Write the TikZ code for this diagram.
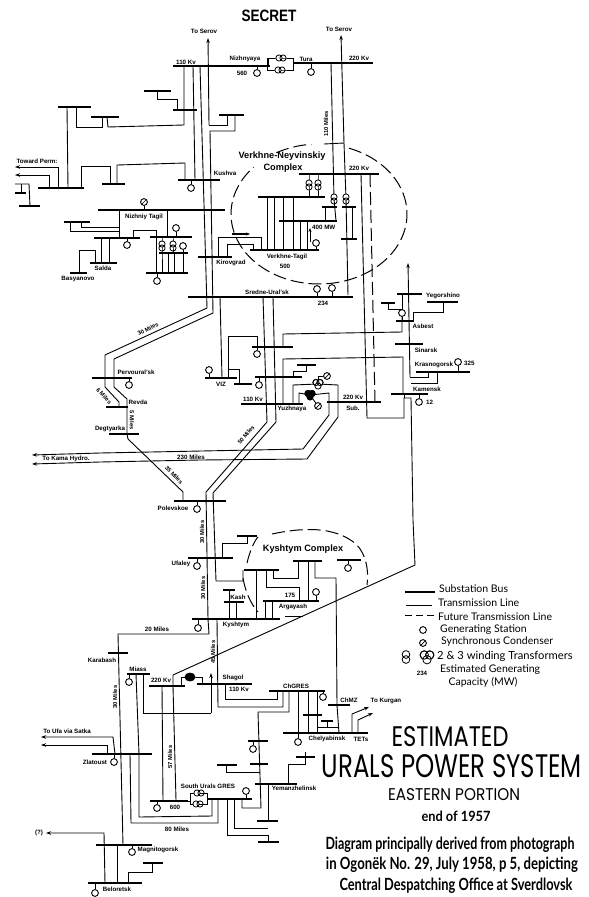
\documentclass[tikz,border=0pt]{standalone}
\usepackage{fontspec}
\usepackage{graphicx}
\setmainfont{Liberation Sans}
\newfontfamily\ttlfont{Poppins}
\newfontfamily\lgdfont{Lato}
\usetikzlibrary{arrows.meta}
\pgfdeclarelayer{bg}
\pgfsetlayers{bg,main}
\tikzset{
  lnk/.style={line width=0.9pt,line join=miter},
  arr/.style={lnk,-{Stealth[length=5pt,width=3.5pt]}},
  fut/.style={line width=1pt,dash pattern=on 13pt off 5pt},
  busbar/.style={rectangle,fill=black,inner sep=0pt,minimum height=2pt},
  gensym/.style={circle,draw,fill=white,line width=0.9pt,minimum size=6.8pt,inner sep=0pt},
  synsym/.style={gensym,path picture={\draw[line width=0.7pt] (path picture bounding box.south west) -- (path picture bounding box.north east);}},
  xfm/.style={draw,fill=white,line width=0.8pt},
  xfb/.style={draw,fill=black,line width=0.8pt},
  lbl/.style={inner sep=0pt,font=\fontsize{6.2}{6.5}\selectfont\bfseries},
  rlb/.style={inner sep=0pt,font=\fontsize{5.8}{6}\selectfont\bfseries},
  cpx/.style={inner sep=0pt,font=\fontsize{9.2}{10}\selectfont\bfseries},
  lgd/.style={inner sep=0pt,anchor=west,font=\lgdfont\fontsize{10.5}{11}\selectfont},
  ttl/.style={inner sep=0pt,font=\ttlfont},
  ttb/.style={inner sep=0pt,font=\lgdfont\bfseries},
}
\newcommand{\bus}[4]{\node[busbar,minimum width={(#3-#2)*1pt}] (#1) at ({(#2+#3)/2},#4) {};}
\newcommand{\gen}[4]{\node[gensym] (#1) at (#2,#3) {};\begin{pgfonlayer}{bg}\draw[lnk] (#1) -- (#1 |- #4);\end{pgfonlayer}}
\newcommand{\syn}[4]{\node[synsym] (#1) at (#2,#3) {};\begin{pgfonlayer}{bg}\draw[lnk] (#1) -- (#1 |- #4);\end{pgfonlayer}}
\newcommand{\xfv}[3]{\coordinate (#1) at (#2,#3);\draw[xfm] (#2,{#3-2}) circle (3.1pt);\draw[xfm,fill=none] (#2,{#3+2}) circle (3.1pt);}
\newcommand{\xfh}[3]{\coordinate (#1) at (#2,#3);\draw[xfm] ({#2-2},#3) circle (3.1pt);\draw[xfm,fill=none] ({#2+2},#3) circle (3.1pt);}
\newcommand{\xft}[4]{\coordinate (#1) at (#2,#3);\draw[#4] ({#2-2},{#3-1.5}) circle (3.1pt);\draw[#4] ({#2+2},{#3-1.5}) circle (3.1pt);\draw[#4] (#2,{#3+2}) circle (3.1pt);\draw[xfm,fill=none] ({#2-2},{#3-1.5}) circle (3.1pt);\draw[xfm,fill=none] ({#2+2},{#3-1.5}) circle (3.1pt);}
\begin{document}
\begin{tikzpicture}[x=1pt,y=-1pt]
\useasboundingbox (0,0) rectangle (589,897);
% ---- buses
\bus{bA}{173}{270}{66}\bus{bB}{293}{373}{63}
\bus{bC}{144}{171}{91}\bus{bD}{173}{197}{110}\bus{bE}{58}{91}{107}\bus{bF}{91}{119}{117}\bus{bG}{219}{244}{115}
\bus{bKu}{178}{220}{180}\bus{bH}{38}{84}{188}\bus{bI}{102}{125}{184}\bus{bJ}{19}{40}{206}\bus{bK}{15}{26}{193}
\bus{bNT}{98}{225}{210}\bus{bL}{64}{90}{222}\bus{bM}{94}{140}{238}\bus{bN}{150}{192}{237}\bus{bO}{159}{188}{253}\bus{bP}{146}{188}{273}
\bus{bSa}{90}{117}{263}\bus{bBa}{70}{87}{273}\bus{bKi}{198}{232}{257}
\bus{bVa}{299}{379}{174}\bus{bVb}{258}{325}{197}\bus{bVc}{322}{337}{207}\bus{bVd}{342}{356}{207}\bus{bVe}{341}{357}{239}\bus{bVf}{279}{337}{221}\bus{bVg}{250}{319}{250}
\bus{bSU}{188}{353}{297}
\bus{bVZ}{205}{237}{378}\bus{bQ}{252}{293}{347}\bus{bR}{234}{252}{384}\bus{bS}{255}{302}{377}\bus{bT}{297}{316}{365}\bus{bY}{241}{303}{404}\bus{bSub}{327}{381}{402}
\bus{bKa}{391}{428}{394}\bus{bKr}{416}{470}{372}\bus{bSi}{395}{423}{344}\bus{bAs}{396}{414}{321}\bus{bYe}{397}{422}{294}\bus{bU}{427}{458}{302}\bus{bW}{381}{395}{303}
\bus{bPe}{92}{132}{378}\bus{bRe}{106}{128}{407}\bus{bDe}{109}{139}{434}\bus{bPo}{174}{226}{501}
\bus{bUf}{188}{233}{558}\bus{bX}{237}{257}{536}\bus{bKA}{244}{279}{570}\bus{bKB}{293}{322}{561}\bus{bKC}{337}{361}{560}\bus{bAr}{263}{319}{601}\bus{bKs}{192}{280}{619}\bus{bKp}{223}{235}{590}\bus{bKq}{224}{244}{602}
\bus{bKb}{108}{128}{653}\bus{bMi}{127}{150}{674}\bus{bTw}{149}{185}{686}\bus{bSh}{197}{252}{684}\bus{bCh}{269}{325}{691}\bus{bMZ}{328}{350}{705}\bus{bCy}{283}{368}{733}\bus{bZa}{303}{322}{715}\bus{bZb}{321}{333}{721}
\bus{bZl}{92}{152}{754}\bus{bSG}{150}{188}{801}\bus{bSR}{207}{252}{799}\bus{bYa}{248}{268}{741}\bus{bYb}{250}{268}{764}\bus{bYc}{217}{237}{765}\bus{bYm}{255}{297}{784}\bus{bYd}{296}{315}{757}\bus{bYe2}{257}{278}{821}\bus{bYf}{258}{279}{842}
\bus{bMg}{96}{152}{845}\bus{bBe}{88}{142}{883}\bus{bBf}{143}{163}{863}
% ---- generating stations
\gen{g560}{257}{73}{bA}\gen{gTu}{311}{72}{bB}\gen{gKu}{191}{188}{bKu}
\syn{sNT}{144}{202}{bNT}
\gen{gM}{127}{245}{bM}\gen{gN}{176}{228}{bN}\gen{gO}{183}{246}{bP}\gen{gP}{157}{281}{bP}
\gen{gV}{316}{243}{bVg}\gen{gSa}{317}{289}{bSU}\gen{gSb}{332}{288}{bSU}
\gen{gPe}{129}{385}{bPe}\gen{gVZ}{209}{370}{bVZ}\gen{gQ}{257}{354}{bQ}\gen{gR}{259}{385}{bS}
\gen{gAs}{402}{313}{bAs}\gen{gKa}{419}{402}{bKa}\gen{gKr}{458}{362}{bKr}
\gen{gPo}{197}{509}{bPo}\gen{gUf}{197}{566}{bUf}\gen{gKs}{198}{628}{bKs}\gen{gAr}{316}{592}{bAr}\gen{gKC}{348}{568}{bKC}
\gen{gMi}{129}{682}{bMi}\gen{gCh}{323}{697}{bCh}\gen{gCy}{298}{742}{bCy}\gen{gZl}{114}{762}{bZl}\gen{gSG}{157}{808}{bSG}\gen{gSR}{246}{791}{bSR}\gen{gYa}{253}{749}{bYa}
\gen{gMg}{132}{852}{bMg}\gen{gBe}{95}{893}{bBe}
\node[synsym] (sYa) at (327,376) {};\node[synsym] (sYb) at (318,406) {};
% ---- transformers
\xfh{tNa}{281}{58}\xfh{tNb}{280}{70}
\xfv{tVa}{309}{185}\xfv{tVb}{318}{185}\xfv{tVc}{334}{199}\xfv{tVd}{346}{199}
\xfv{tNc}{162}{246}\xfv{tNd}{173}{246}
\xfh{tSa}{199}{793}\xfh{tSb}{198}{804}
\xft{tYa}{318}{384}{xfm}\xft{tYb}{310}{395}{xfb}
\draw[xfb] (190,677) ellipse (5pt and 4pt);\coordinate (tSh) at (190,677);
% ---- transmission lines
\begin{pgfonlayer}{bg}
% North-west
\draw[arr] (209,125) -- (208,38);
\draw[lnk] (209,125) -- (227,125) -- (227,0|-bG);
\draw[lnk] (235,0|-bG) -- (235,131) -- (210,131) -- (213,313) -- (114,359) -- (114,387) -- (127,399) -- (127,0|-bDe) -- (128,439) -- (183,492) -- (183,0|-bPo);
\draw[lnk] (200,0|-bA) -- (207,308) -- (105,355) -- (105,387) -- (119,402) -- (119,0|-bRe);
\draw[lnk] (184,0|-bA) -- (184,125) -- (108,127) -- (107,0|-bF);
\draw[lnk] (193,0|-bA) -- (195,0|-bKu);
\draw[lnk] (157,0|-bC) -- (157,99) -- (177,99) -- (177,0|-bD);
\draw[lnk] (76,0|-bE) -- (76,127) -- (102,127) -- (102,0|-bF);
\draw[lnk] (67,0|-bE) -- (68,0|-bH);
\draw[arr] (58,0|-bH) -- (58,167) -- (15,167);
\draw[arr] (49,0|-bH) -- (49,175) -- (15,175);
\draw[lnk] (81,0|-bH) -- (81,166) -- (110,166) -- (110,0|-bI);
\draw[lnk] (117,0|-bI) -- (117,165) -- (185,163) -- (185,0|-bKu);
\draw[lnk] (15,184) -- (29,184) -- (30,0|-bJ);
\draw[lnk] (21,184) -- (21,0|-bK);
% Nizhniy Tagil
\draw[lnk] (119,0|-bNT) -- (119,0|-bM);
\draw[lnk] (70,0|-bL) -- (70,231) -- (119,231);
\draw[lnk] (81,0|-bL) -- (81,227) -- (119,227);
\draw[lnk] (133,0|-bM) -- (133,230) -- (156,230) -- (156,0|-bP);
\draw[lnk] (167,0|-bNT) -- (167,0|-bN);
\draw[lnk] (162,0|-bN) -- (tNc) -- (162,0|-bP);
\draw[lnk] (173,0|-bN) -- (tNd) -- (173,0|-bO);
\draw[lnk] (168,0|-bO) -- (168,0|-bP);
\draw[lnk] (174,0|-bO) -- (174,0|-bP);
\draw[lnk] (101,0|-bM) -- (101,0|-bSa);
\draw[lnk] (109,0|-bM) -- (109,0|-bSa);
\draw[lnk] (95,0|-bSa) -- (95,250) -- (79,250) -- (79,0|-bBa);
% Kirovgrad
\draw[lnk] (218,0|-bKi) -- (218,237) -- (261,237) -- (261,0|-bVg);
\draw[lnk] (227,0|-bKi) -- (227,244) -- (253,244) -- (253,0|-bVg);
% Top right
\draw[lnk] (268,66) -- (268,58) -- (tNa) -- (293,58) -- (293,70) -- (tNb) -- (267,70) -- (267,58);
\draw[arr] (344,143) -- (341,35);
\draw[lnk] (331,0|-bB) -- (tVc);
\draw[lnk] (324,144) -- (344,143) -- (tVd) -- (348,295);
\draw[lnk] (tVc) -- (336,0|-bVf);
\draw[lnk] (tVa |- bVa) -- (tVa) -- (tVa |- bVb);
\draw[lnk] (tVb |- bVa) -- (tVb) -- (tVb |- bVb);
\draw[lnk] (325,0|-bVc) -- (325,0|-bVf);
\draw[lnk] (352,0|-bVd) -- (352,0|-bVe);
\foreach \xx in {267,274,283,293} {\draw[lnk] (\xx,0|-bVb) -- (\xx,0|-bVg);}
\foreach \xx in {300,307} {\draw[lnk] (\xx,0|-bVf) -- (\xx,0|-bVg);}
\draw[arr,line width=0.8pt,-{Stealth[length=4pt,width=3pt]}] (310,242) -- (310,228);
\draw[lnk,line width=1.2pt,-{Stealth[length=4pt,width=3pt]}] (232,234) -- (250,234);
\draw[lnk] (361,0|-bVa) -- (367,418) -- (404,418) -- (404,398) -- (411,398) -- (413,520) -- (415,565) -- (173,675) -- (173,686) -- (176,800);
\draw[lnk] (404,398) -- (404,0|-bKa);
\draw[fut] (370,0|-bVa) -- (375,0|-bSub);
% Sredne-Ural'sk and Yuzhnaya
\draw[lnk] (220,0|-bSU) -- (222,0|-bVZ);
\draw[lnk] (228,0|-bVZ) -- (228,336) -- (257,336) -- (257,0|-bQ);
\draw[lnk] (283,0|-bQ) -- (283,334) -- (402,332) -- (gAs);
\draw[lnk] (229,369) -- (239,369) -- (239,0|-bR);
\draw[lnk] (306,0|-bT) -- (306,371) -- (293,371) -- (293,0|-bS);
\draw[lnk] (263,0|-bSU) -- (267,422) -- (206,492) -- (208,0|-bKs) -- (209,634) -- (118,634) -- (123,0|-bMg);
\draw[lnk] (273,0|-bSU) -- (276,422) -- (213,493) -- (216,581) -- (243,581) -- (243,0|-bKA);
\draw[lnk] (283,0|-bY) -- (283,359) -- (403,357) -- (403,0|-bKa);
\draw[lnk] (293,0|-bY) -- (293,385) -- (tYa);
\draw[lnk] (tYa) -- (338,385) -- (338,417) -- (307,459) -- (200,460) -- (100,462);
\draw[arr] (100,462) -- (32,464);
\draw[lnk] (299,0|-bY) -- (299,393) -- (tYb) -- (329,393) -- (329,415) -- (303,449) -- (100,453);
\draw[arr] (100,453) -- (32,455);
\draw[lnk] (tYa) -- (318,376) -- (sYa);
\draw[lnk] (tYb) -- (sYb);
% East
\draw[arr] (410,377) -- (408,263);
\draw[lnk] (410,377) -- (428,377) -- (428,0|-bKr);
\draw[lnk] (437,0|-bKr) -- (437,383) -- (411,383);
\draw[lnk] (388,0|-bW) -- (388,309) -- (402,309) -- (402,0|-bYe);
\draw[lnk] (402,0|-bYe) -- (gAs);
\draw[lnk] (413,0|-bAs) -- (413,312) -- (443,312) -- (443,0|-bU);
% Kyshtym complex
\draw[lnk] (247,0|-bX) -- (247,543) -- (222,543) -- (222,0|-bUf);
\draw[lnk] (256,0|-bKA) -- (256,0|-bKs);
\draw[lnk] (266,0|-bKA) -- (266,587) -- (299,587) -- (299,0|-bAr);
\draw[lnk] (273,0|-bKA) -- (273,578) -- (298,578) -- (298,0|-bKB);
\draw[lnk] (308,0|-bKB) -- (308,0|-bAr);
\draw[lnk] (315,0|-bKB) -- (315,578) -- (336,578) -- (337,0|-bMZ) -- (339,0|-bCy);
\draw[lnk] (265,0|-bAr) -- (265,0|-bKs);
\draw[lnk] (272,0|-bAr) -- (272,0|-bKs);
\draw[lnk] (229,0|-bKp) -- (229,0|-bKs);
\draw[lnk] (236,0|-bKq) -- (236,0|-bKs);
\draw[lnk] (217,0|-bKs) -- (218,707) -- (283,707) -- (283,0|-bCh);
% South
\draw[lnk] (225,0|-bSh) -- (225,699) -- (277,699) -- (277,0|-bCh);
\draw[lnk] (181,0|-bTw) -- (181,677) -- (tSh) -- (202,677) -- (202,0|-bSh);
\draw[arr] (211,713) -- (211,673);
\draw[lnk] (143,0|-bMi) -- (143,713) -- (211,713);
\draw[lnk] (162,0|-bTw) -- (163,0|-bSG);
\draw[lnk] (136,0|-bMi) -- (139,0|-bZl) -- (139,817) -- (212,816) -- (212,0|-bSR);
\draw[lnk] (130,0|-bZl) -- (131,823) -- (218,823) -- (218,0|-bSR);
\draw[arr] (115,0|-bZl) -- (113,737) -- (41,737);
\draw[arr] (107,0|-bZl) -- (107,745) -- (41,745);
\draw[lnk] (188,801) -- (190,801) -- (190,793) -- (tSa) -- (207,793) -- (207,804) -- (tSb) -- (190,804) -- (190,801);
\draw[lnk] (289,0|-bCh) -- (289,712) -- (258,712) -- (261,808) -- (242,808) -- (242,0|-bSR);
\draw[lnk] (226,0|-bYc) -- (226,772) -- (260,772);
\draw[lnk] (234,0|-bSR) -- (234,828) -- (268,828);
\draw[lnk] (268,0|-bYm) -- (268,0|-bYe2);
\draw[lnk] (227,0|-bSR) -- (227,835) -- (268,835) -- (268,0|-bYf);
\draw[lnk] (288,0|-bYm) -- (288,764) -- (305,764) -- (305,752);
\foreach \xx in {308,317} {\draw[lnk] (\xx,0|-bCh) -- (\xx,0|-bCy);}
\draw[lnk] (298,0|-bCh) -- (298,0|-bCy);
\draw[lnk] (317,727) -- (339,727);
\draw[lnk] (327,0|-bZb) -- (327,727);
\draw[arr] (352,0|-bCy) -- (352,714) -- (369,707);
\draw[arr] (358,0|-bCy) -- (358,720) -- (373,713);
\draw[arr] (105,0|-bBe) -- (104,833) -- (46,833);
\draw[lnk] (117,0|-bMg) -- (117,0|-bBe);
\draw[lnk] (128,0|-bBe) -- (128,872) -- (152,872) -- (152,0|-bBf);
% Dashed complexes
\draw[fut] plot[domain=-70:222,samples=120] ({319+88*cos(\x)},{214+70*sin(\x)});
\draw[fut] plot[domain=-119:-95,samples=20] ({319+88*cos(\x)},{214+70*sin(\x)});
\draw[fut] (247,563) .. controls (250,550) and (255,540) .. (258,537);
\draw[fut] (272,534) .. controls (300,528) and (335,525) .. (357,545) .. controls (366,555) and (369,570) .. (367,585);
\draw[fut] (243,578) .. controls (245,590) and (250,603) .. (258,612);
\draw[lnk,line width=1pt] (285,616) -- (303,616);
% Legend lines
\coordinate (lgA) at (405,592);\coordinate (lgB) at (435,592);
\draw[line width=2pt] (lgA) -- (lgB);
\coordinate (lgC) at (406,605);\coordinate (lgD) at (432,605);
\draw[lnk] (lgC) -- (lgD);
\coordinate (lgE) at (405,615);\coordinate (lgF) at (435,615);
\draw[line width=1pt,dash pattern=on 7pt off 4pt] (lgE) -- (lgF);
\end{pgfonlayer}
% Legend symbols
\node[gensym] (lgG) at (423,630) {};
\node[synsym] (lgS) at (423,643) {};
\begin{scope}[shift={(406,657)},scale=1.25]\xfv{lgT}{0}{0}\end{scope}
\begin{scope}[shift={(427,657)},scale=1.35]\xft{lgU}{0}{0}{xfm}\end{scope}
% ---- labels
\node[inner sep=0pt,font=\bfseries] (tSec) at (269,16) {\resizebox{55pt}{11.5pt}{SECRET}};
\node[lbl] (l01) at (204,31) {To Serov};
\node[lbl] (l02) at (339,29) {To Serov};
\node[lbl] (l03) at (186,62) {110 Kv};
\node[lbl] (l04) at (359,58) {220 Kv};
\node[lbl] (l05) at (245,59) {Nizhnyaya};
\node[lbl] (l06) at (242,73) {560};
\node[lbl] (l07) at (306,59) {Tura};
\node[rlb,rotate=90] (l08) at (326,124) {110 Miles};
\node[lbl] (l09) at (37,161) {Toward Perm:};
\node[lbl] (l10) at (225,173) {Kushva};
\node[lbl] (l11) at (144,217) {Nizhniy Tagil};
\node[lbl] (l12) at (103,268) {Salda};
\node[lbl] (l13) at (78,279) {Basyanovo};
\node[lbl] (l14) at (231,263) {Kirovgrad};
\node[cpx] (l15) at (282,156) {Verkhne-Neyvinskiy};
\node[cpx] (l16) at (283,168) {Complex};
\node[lbl] (l17) at (359,168) {220 Kv};
\node[lbl,anchor=west] (l18) at (312,227) {400 MW};
\node[lbl] (l19) at (287,257) {Verkhne-Tagil};
\node[lbl] (l20) at (285,266) {500};
\node[lbl] (l21) at (267,292) {Sredne-Ural'sk};
\node[lbl] (l22) at (323,303) {234};
\node[rlb,rotate=27] (l23) at (148,329) {30 Miles};
\node[lbl] (l24) at (136,372) {Pervoural'sk};
\node[rlb,rotate=-48] (l25) at (104,396) {6 Miles};
\node[lbl] (l26) at (138,402) {Revda};
\node[rlb,rotate=-90] (l27) at (132,420) {5 Miles};
\node[lbl] (l28) at (110,429) {Degtyarka};
\node[rlb,rotate=-45] (l29) at (174,475) {35 Miles};
\node[lbl] (l30) at (191,457) {230 Miles};
\node[lbl] (l31) at (66,459) {To Kama Hydro.};
\node[rlb,rotate=50] (l32) at (246,435) {50 Miles};
\node[lbl] (l33) at (173,508) {Polevskoe};
\node[lbl] (l34) at (221,384) {VIZ};
\node[lbl] (l35) at (253,399) {110 Kv};
\node[lbl] (l36) at (292,409) {Yuzhnaya};
\node[lbl] (l37) at (353,397) {220 Kv};
\node[lbl] (l38) at (353,408) {Sub.};
\node[lbl] (l39) at (443,296) {Yegorshino};
\node[lbl] (l40) at (423,326) {Asbest};
\node[lbl] (l41) at (426,350) {Sinarsk};
\node[lbl] (l42) at (434,365) {Krasnogorsk};
\node[lbl,anchor=west] (l43) at (464,363) {325};
\node[lbl] (l44) at (427,389) {Kamensk};
\node[lbl,anchor=west] (l45) at (426,402) {12};
\node[rlb,rotate=90] (l46) at (202,532) {30 Miles};
\node[lbl] (l47) at (181,564) {Ufaley};
\node[rlb,rotate=90] (l48) at (203,588) {30 Miles};
\node[cpx] (l49) at (303,549) {Kyshtym Complex};
\node[lbl] (l50) at (290,595) {175};
\node[lbl] (l51) at (293,607) {Argayash};
\node[lbl] (l52) at (238,597) {Kash};
\node[lbl] (l53) at (236,625) {Kyshtym};
\node[lbl] (l54) at (157,629) {20 Miles};
\node[rlb,rotate=90] (l55) at (213,652) {45 Miles};
\node[lbl] (l56) at (102,660) {Karabash};
\node[lbl] (l57) at (138,669) {Miass};
\node[lbl] (l58) at (161,680) {220 Kv};
\node[lbl] (l59) at (233,678) {Shagol};
\node[lbl] (l60) at (239,689) {110 Kv};
\node[lbl] (l61) at (296,686) {ChGRES};
\node[lbl] (l62) at (349,700) {ChMZ};
\node[lbl] (l63) at (386,701) {To Kurgan};
\node[lbl] (l64) at (327,739) {Chelyabinsk};
\node[lbl] (l65) at (361,739) {TETs};
\node[rlb,rotate=90] (l66) at (115,697) {30 Miles};
\node[lbl] (l67) at (67,731) {To Ufa via Satka};
\node[lbl] (l68) at (95,762) {Zlatoust};
\node[rlb,rotate=90] (l69) at (170,757) {57 Miles};
\node[lbl] (l70) at (294,788) {Yemanzhelinsk};
\node[lbl] (l71) at (208,786) {South Urals GRES};
\node[lbl] (l72) at (175,807) {600};
\node[lbl] (l73) at (177,829) {80 Miles};
\node[lbl] (l74) at (39,833) {(?)};
\node[lbl] (l75) at (158,850) {Magnitogorsk};
\node[lbl] (l76) at (117,889) {Beloretsk};
% legend text
\node[lgd] (t1) at (439,589) {Substation Bus};
\node[lgd] (t2) at (438,603) {Transmission Line};
\node[lgd] (t3) at (438,617) {Future Transmission Line};
\node[lgd] (t4) at (440,630) {Generating Station};
\node[lgd] (t5) at (441,642) {Synchronous Condenser};
\node[lgd,font=\lgdfont\fontsize{11.2}{12}\selectfont] (t6) at (437,656) {2 \& 3 winding Transformers};
\node[lbl] (t7) at (422,673) {234};
\node[lgd] (t8) at (440,670) {Estimated Generating};
\node[lgd,anchor=center] (t9) at (483,682) {Capacity (MW)};
% title
\node[ttl] (h1) at (450,737) {\resizebox{117pt}{20pt}{ESTIMATED}};
\node[ttl] (h2) at (452,766) {\resizebox{260pt}{23pt}{URALS POWER SYSTEM}};
\node[ttl] (h3) at (454,795) {\resizebox{132pt}{12pt}{EASTERN PORTION}};
\node[ttb] (h4) at (456,816) {\resizebox{69pt}{10.5pt}{end of 1957}};
\node[ttb] (h5) at (450,845) {\resizebox{249pt}{12.5pt}{Diagram principally derived from photograph}};
\node[ttb] (h6) at (452,865) {\resizebox{252pt}{12.5pt}{in Ogonëk No. 29, July 1958, p 5, depicting}};
\node[ttb] (h7) at (456,886) {\resizebox{233pt}{12.5pt}{Central Despatching Office at Sverdlovsk}};
\end{tikzpicture}
\end{document}
